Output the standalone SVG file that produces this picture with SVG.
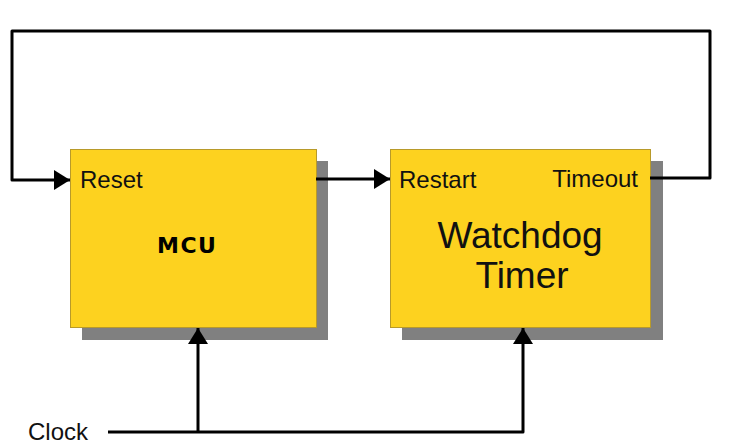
<svg xmlns="http://www.w3.org/2000/svg" width="729" height="444" viewBox="0 0 729 444">
  <style>
    .shadow { fill: #808080; }
    .box { fill: #FDD21F; stroke: #B89A2A; stroke-width: 1; }
    .lbl { font-family: "Liberation Sans", Arial, sans-serif; font-size: 24px; fill: #111; }
    .big { font-family: "Liberation Sans", Arial, sans-serif; font-size: 37px; fill: #111; text-anchor: middle; }
    .mcu { font-family: "DejaVu Sans", Verdana, sans-serif; font-size: 22px; font-weight: bold; fill: #000; letter-spacing: 1.5px; }
    .wire { fill: none; stroke: #000; stroke-width: 3; stroke-linejoin: round; }
  </style>
  <defs>
    <marker id="arr" markerUnits="userSpaceOnUse" markerWidth="17" markerHeight="21" refX="16" refY="10" orient="auto">
      <path d="M0,0 L16,10 L0,20 Z" fill="#000"/>
    </marker>
  </defs>
  <rect width="729" height="444" fill="#fff"/>

  <g id="mcu">
    <rect class="shadow" x="82" y="161" width="246" height="179"/>
    <rect class="box" x="70.5" y="149.5" width="246" height="178"/>
    <text class="lbl" x="80" y="188">Reset</text>
    <text class="mcu" x="157" y="253">MCU</text>
  </g>

  <g id="watchdog">
    <rect class="shadow" x="402" y="161" width="261" height="179"/>
    <rect class="box" x="390.5" y="149.5" width="260" height="178"/>
    <text class="lbl" x="399" y="188">Restart</text>
    <text class="lbl" x="638" y="187" text-anchor="end">Timeout</text>
    <text class="big" x="520" y="248">Watchdog</text>
    <text class="big" x="522" y="288">Timer</text>
  </g>

  <g id="clock">
    <text class="lbl" x="28" y="440">Clock</text>
  </g>

  <g id="connectors">
    <path class="wire" d="M650,178 H710 V31 H12 V180 H70" marker-end="url(#arr)"/>
    <path class="wire" d="M316,179 H390" marker-end="url(#arr)"/>
    <path class="wire" d="M108,432 H523 V328" marker-end="url(#arr)"/>
    <path class="wire" d="M198,432 V328" marker-end="url(#arr)"/>
  </g>
</svg>
